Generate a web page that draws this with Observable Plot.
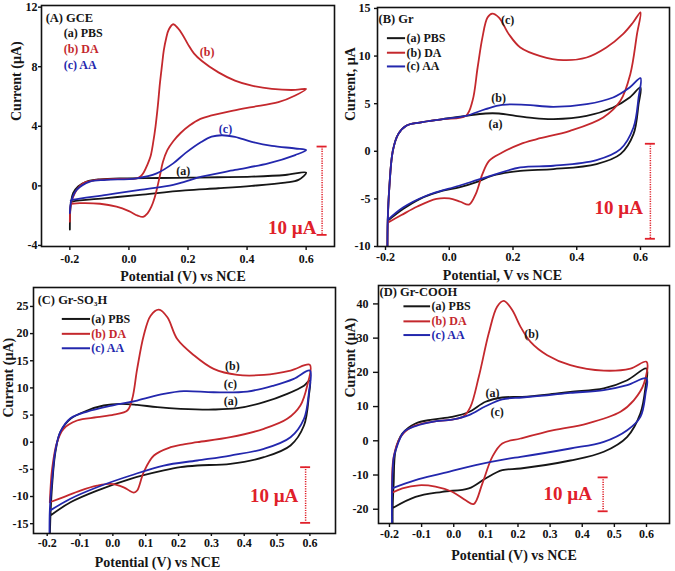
<!DOCTYPE html>
<html>
<head>
<meta charset="utf-8">
<script src="https://cdn.jsdelivr.net/npm/d3@7"></script>
<script src="https://cdn.jsdelivr.net/npm/@observablehq/plot@0.6"></script>
<style>
  html, body { margin: 0; padding: 0; background: #fff; }
  #root { position: relative; width: 675px; height: 571px; background: #fff; overflow: hidden; }
  .cell { position: absolute; }
</style>
</head>
<body>
<div id="root"></div>
<script>
// ---------------- DATA (potential V, current µA), traversed in scan order ----------------
const seriesNames = ["(a) PBS", "(b) DA", "(c) AA"];

// (A) GCE
const gcePBS = [[-0.200,-2.93],[-0.199,-1.8],[-0.196,-1.1],[-0.189,-0.49],[-0.172,-0.04],[-0.143,0.29],[-0.098,0.44],[-0.02,0.51],[0.1,0.53],[0.2,0.55],[0.3,0.58],[0.416,0.62],[0.529,0.73],[0.6,0.89],
  [0.574,0.40],[0.529,0.22],[0.416,0.0],[0.303,-0.16],[0.19,-0.3],[0.037,-0.6],[-0.076,-0.82],[-0.189,-1.04],[-0.197,-1.1]];
const gceDA = [[-0.200,-2.4],[-0.199,-1.7],[-0.196,-1.2],[-0.19,-0.8],[-0.177,-0.27],[-0.155,0.18],[-0.11,0.4],[-0.042,0.47],[0.026,0.51],[0.04,0.65],[0.05,0.9],[0.062,1.4],[0.073,1.97],[0.082,2.9],[0.09,3.98],[0.098,5.4],[0.105,6.9],[0.112,8.1],[0.118,9.1],[0.126,9.9],[0.135,10.5],[0.15,10.85],[0.165,10.6],[0.18,10.2],[0.2,9.5],[0.22,8.9],[0.246,8.4],[0.303,7.62],[0.359,7.07],[0.416,6.73],[0.484,6.51],[0.563,6.44],[0.6,6.51],
  [0.563,6.07],[0.506,5.62],[0.416,5.29],[0.353,5.05],[0.28,4.73],[0.242,4.5],[0.205,4.05],[0.175,3.55],[0.15,3.0],[0.13,2.4],[0.115,1.6],[0.105,0.7],[0.096,-0.1],[0.087,-0.8],[0.076,-1.4],[0.063,-1.85],[0.048,-2.08],[0.03,-2.0],[0.0,-1.7],[-0.042,-1.4],[-0.098,-1.2],[-0.166,-1.16],[-0.195,-1.2]];
const gceAA = [[-0.2,-1.82],[-0.198,-1.3],[-0.194,-0.93],[-0.177,-0.27],[-0.132,0.29],[-0.076,0.4],[0.026,0.51],[0.094,0.84],[0.15,1.51],[0.19,2.18],[0.246,2.96],[0.28,3.3],[0.314,3.4],[0.359,3.29],[0.416,2.96],[0.484,2.69],[0.563,2.51],[0.6,2.4],
  [0.563,2.07],[0.472,1.51],[0.359,1.07],[0.246,0.62],[0.19,0.29],[0.15,0.07],[0.037,-0.27],[-0.076,-0.6],[-0.189,-0.93],[-0.197,-1.0]];

// (B) Gr
const grPBS = [[-0.194,-10.5],[-0.193,-7.3],[-0.188,-3.8],[-0.177,0.05],[-0.16,1.8],[-0.135,2.68],[-0.093,3.02],[-0.02,3.38],[0.052,3.72],[0.114,3.97],[0.156,3.97],[0.208,3.72],[0.26,3.5],[0.327,3.38],[0.431,3.72],[0.514,4.6],[0.566,5.65],[0.6,6.7],
  [0.594,4.95],[0.578,1.8],[0.537,-0.3],[0.462,-1.34],[0.327,-1.87],[0.223,-2.05],[0.135,-2.57],[0.083,-3.27],[0.031,-3.8],[-0.02,-4.14],[-0.093,-5.02],[-0.145,-6.07],[-0.193,-7.3]];
const grDA = [[-0.194,-10.5],[-0.193,-7.5],[-0.188,-3.8],[-0.177,0.05],[-0.16,1.8],[-0.135,2.68],[-0.093,3.02],[-0.02,3.38],[0.052,3.72],[0.073,5.3],[0.089,8.8],[0.104,11.94],[0.12,14.04],[0.135,14.46],[0.156,14.04],[0.187,12.3],[0.223,10.9],[0.286,10.0],[0.358,9.57],[0.431,9.85],[0.493,10.9],[0.545,12.3],[0.576,13.5],[0.6,14.6],
  [0.589,12.3],[0.568,8.1],[0.537,5.3],[0.483,3.55],[0.379,2.15],[0.275,1.28],[0.223,0.76],[0.166,-0.13],[0.125,-1.0],[0.104,-2.4],[0.083,-4.5],[0.062,-5.6],[0.035,-5.3],[0.0,-4.95],[-0.04,-5.0],[-0.1,-5.8],[-0.15,-6.7],[-0.193,-7.5]];
const grAA = [[-0.194,-10.5],[-0.193,-7.2],[-0.188,-3.8],[-0.177,0.05],[-0.16,1.8],[-0.135,2.68],[-0.093,3.02],[-0.02,3.38],[0.052,3.72],[0.114,4.43],[0.166,4.88],[0.239,4.88],[0.327,4.67],[0.431,4.95],[0.514,5.65],[0.566,6.7],[0.6,7.68],
  [0.594,5.65],[0.578,2.5],[0.537,0.23],[0.462,-0.92],[0.327,-1.52],[0.223,-1.7],[0.114,-2.75],[0.031,-3.62],[-0.072,-4.67],[-0.145,-5.9],[-0.193,-7.2]];

// (C) Gr-SO3H
const soPBS = [[-0.192,-18],[-0.19,-13.5],[-0.185,-8.0],[-0.175,-1.84],[-0.16,1.84],[-0.129,4.3],[-0.078,5.84],[-0.028,6.76],[0.023,7.07],[0.074,6.88],[0.135,6.45],[0.206,6.15],[0.307,6.02],[0.379,6.26],[0.46,7.37],[0.531,8.9],[0.582,10.4],[0.6,11.4],
  [0.597,8.6],[0.582,3.07],[0.541,-0.6],[0.46,-2.76],[0.358,-3.98],[0.257,-4.29],[0.206,-4.6],[0.155,-5.2],[0.054,-6.74],[-0.048,-8.9],[-0.129,-11.05],[-0.19,-13.5]];
const soDA = [[-0.192,-11.05],[-0.185,-4.9],[-0.17,0],[-0.15,2.47],[-0.109,4.0],[-0.048,4.6],[0.003,5.1],[0.044,5.84],[0.059,8.0],[0.074,13.5],[0.094,19.65],[0.115,23.3],[0.14,24.4],[0.166,23.0],[0.196,19.0],[0.247,16.0],[0.307,13.5],[0.379,12.4],[0.46,12.4],[0.541,13.2],[0.6,14.25],
  [0.592,10.44],[0.571,6.76],[0.531,4.3],[0.46,2.47],[0.358,0.92],[0.257,0],[0.206,-0.49],[0.176,-0.92],[0.125,-2.45],[0.094,-5.5],[0.074,-8.9],[0.064,-9.3],[0.033,-8.3],[-0.007,-7.67],[-0.048,-8.0],[-0.099,-8.9],[-0.15,-10.1],[-0.192,-11.05]];
const soAA = [[-0.193,-18],[-0.192,-12.6],[-0.186,-7.5],[-0.175,-1.5],[-0.16,1.9],[-0.129,4.4],[-0.078,5.65],[-0.003,6.76],[0.074,7.68],[0.155,8.9],[0.216,9.4],[0.307,9.2],[0.409,9.33],[0.49,10.44],[0.551,11.67],[0.6,13.2],
  [0.597,9.2],[0.582,4.3],[0.541,0.92],[0.46,-1.22],[0.358,-2.45],[0.257,-3.37],[0.155,-4.29],[0.054,-6.13],[-0.048,-8.29],[-0.129,-10.4],[-0.192,-12.6]];

// (D) Gr-COOH
const coPBS = [[-0.19,-26],[-0.19,-19.5],[-0.187,-12.5],[-0.181,-2.8],[-0.16,2.1],[-0.119,5.05],[-0.067,6.2],[-0.005,7.0],[0.047,8.4],[0.099,11.4],[0.151,12.65],[0.213,12.85],[0.29,13.5],[0.363,14.3],[0.467,15.3],[0.54,17.7],[0.6,21.1],
  [0.597,15.8],[0.581,8.0],[0.54,1.17],[0.467,-3.2],[0.363,-5.76],[0.208,-8.1],[0.151,-8.6],[0.099,-11.0],[0.047,-13.9],[-0.036,-14.9],[-0.119,-16.4],[-0.187,-19.5]];
const coDA = [[-0.192,-15.2],[-0.187,-4.7],[-0.165,1.17],[-0.129,4.1],[-0.067,5.55],[-0.005,6.2],[0.031,7.2],[0.052,9.9],[0.078,18.7],[0.109,31.4],[0.135,39.2],[0.156,40.9],[0.182,38.2],[0.208,33.3],[0.239,28.9],[0.291,25.0],[0.363,22.1],[0.467,20.5],[0.55,21.1],[0.6,23.1],
  [0.592,16.7],[0.561,11.9],[0.519,8.5],[0.415,5.05],[0.311,3.1],[0.208,0.67],[0.151,-0.8],[0.12,-4.7],[0.089,-12.5],[0.062,-18.5],[0.037,-17.4],[-0.005,-14.9],[-0.057,-13.4],[-0.109,-13.0],[-0.16,-13.9],[-0.192,-15.2]];
const coAA = [[-0.192,-26],[-0.192,-13.9],[-0.187,-5],[-0.181,-2.8],[-0.155,2.6],[-0.119,4.3],[-0.067,5.55],[-0.005,6.2],[0.047,7.5],[0.099,10.1],[0.151,12.1],[0.213,12.65],[0.29,13.3],[0.363,14.0],[0.467,14.8],[0.54,16.25],[0.6,18.2],
  [0.597,13.8],[0.581,7.0],[0.54,3.1],[0.467,-0.3],[0.363,-2.25],[0.208,-4.7],[0.171,-5.2],[0.068,-7.1],[-0.036,-9.55],[-0.119,-11.5],[-0.192,-13.9]];

// tick values
const xTicksCoarse = [-0.2, 0, 0.2, 0.4, 0.6];
const xTicksFine = [-0.2, -0.1, 0, 0.1, 0.2, 0.3, 0.4, 0.5, 0.6];
const yTicksA = [-4, 0, 4, 8, 12];
const yTicksB = [-10, -5, 0, 5, 10, 15];
const yTicksC = [-15, -10, -5, 0, 5, 10, 15, 20, 25];
const yTicksD = [-20, -10, 0, 10, 20, 30, 40];

// ---------------- STYLE ----------------
const FONT = "'Liberation Serif','Times New Roman',Times,serif";
const BLACK = "#161616", RED = "#c4282d", BLUE = "#2327ad", BAR = "#e0202a";

const panels = [
  {
    box: {left: 0, top: 0, width: 337, height: 284},
    m: {l: 41, r: 3, t: 5, b: 38},
    xd: [-0.296, 0.696], yd: [-4.07, 12.11],
    xTicks: xTicksCoarse, yTicks: yTicksA,
    xt: {size: 4, pad: 4}, yt: {size: 3, pad: 1},
    curves: [[gcePBS, BLACK], [gceDA, RED], [gceAA, BLUE]],
    title: {t: "(A) GCE", x: -0.282, y: 11.25},
    legend: {x: -0.221, ys: [10.22, 9.15, 8.12], colors: [BLACK, RED, BLUE], line: null},
    labels: [{t: "(b)", x: 0.265, y: 8.95, c: RED}, {t: "(c)", x: 0.327, y: 3.8, c: BLUE}, {t: "(a)", x: 0.184, y: 0.96, c: BLACK}],
    bar: {x: 0.654, y1: 2.64, y2: -3.29, half: 0.017, tx: 0.553, ty: -2.84},
    xLabel: {t: "Potential (V) vs NCE", dx: -5, dy: 34},
    yLabel: {t: "Current (µA)", dx: -25, dy: -5}
  },
  {
    box: {left: 337, top: 0, width: 338, height: 284},
    m: {l: 40, r: 6, t: 7, b: 38},
    xd: [-0.2251, 0.691], yd: [-10, 15.1],
    xTicks: xTicksCoarse, yTicks: yTicksB,
    xt: {size: 4, pad: 2}, yt: {size: 3, pad: 4},
    curves: [[grPBS, BLACK], [grDA, RED], [grAA, BLUE]],
    title: {t: "(B) Gr", x: -0.222, y: 13.92},
    legend: {x: -0.134, ys: [11.88, 10.35, 8.91], colors: [BLACK, BLACK, BLACK], line: [-0.194, -0.137]},
    labels: [{t: "(c)", x: 0.183, y: 13.74, c: BLACK}, {t: "(b)", x: 0.155, y: 5.58, c: BLACK}, {t: "(a)", x: 0.145, y: 2.82, c: BLACK}],
    bar: {x: 0.631, y1: 0.79, y2: -9.19, half: 0.0157, tx: 0.532, ty: -5.94},
    xLabel: {t: "Potential, V vs NCE", dx: -21, dy: 33},
    yLabel: {t: "Current, µA", dx: -27, dy: -6}
  },
  {
    box: {left: 0, top: 284, width: 337, height: 287},
    m: {l: 33, r: 2, t: 3, b: 38},
    xd: [-0.2417, 0.678], yd: [-16.81, 28.49],
    xTicks: xTicksFine, yTicks: yTicksC,
    xt: {size: 3, pad: 2}, yt: {size: 3, pad: 2},
    curves: [[soPBS, BLACK], [soDA, RED], [soAA, BLUE]],
    title: {t: "(C) Gr-SO₃H", x: -0.229, y: 26.1},
    legend: {x: -0.066, ys: [22.7, 19.96, 17.3], colors: [BLACK, RED, BLUE], line: [-0.154, -0.068]},
    labels: [{t: "(b)", x: 0.364, y: 13.94, c: BLACK}, {t: "(c)", x: 0.358, y: 10.6, c: BLACK}, {t: "(a)", x: 0.359, y: 7.5, c: BLACK}],
    bar: {x: 0.587, y1: -4.6, y2: -14.85, half: 0.0152, tx: 0.491, ty: -9.94},
    xLabel: {t: "Potential (V) vs NCE", dx: -27, dy: 33},
    yLabel: {t: "Current (µA)", dx: -25, dy: 7}
  },
  {
    box: {left: 337, top: 284, width: 338, height: 287},
    m: {l: 41, r: 6, t: 1, b: 48},
    xd: [-0.2342, 0.6716], yd: [-24.17, 45.38],
    xTicks: xTicksFine, yTicks: yTicksD,
    xt: {size: 4, pad: 2}, yt: {size: 5, pad: 5},
    curves: [[coPBS, BLACK], [coDA, RED], [coAA, BLUE]],
    title: {t: "(D) Gr-COOH", x: -0.231, y: 43.6},
    legend: {x: -0.069, ys: [39.3, 34.9, 30.9], colors: [BLACK, RED, BLUE], line: [-0.155, -0.072]},
    labels: [{t: "(b)", x: 0.242, y: 31.2, c: BLACK}, {t: "(a)", x: 0.121, y: 14.0, c: BLACK}, {t: "(c)", x: 0.135, y: 8.5, c: BLACK}],
    bar: {x: 0.465, y1: -10.7, y2: -20.6, half: 0.0156, tx: 0.355, ty: -15.6},
    xLabel: {t: "Potential (V) vs NCE", dx: -10, dy: 36},
    yLabel: {t: "Current (µA)", dx: -28, dy: -7}
  }
];

const seriesColorsCurve = [BLACK, RED, BLUE];

function makePanel(p) {
  const marks = [];
  for (const [data, color] of p.curves) {
    marks.push(Plot.line(data, {x: d => d[0], y: d => d[1], stroke: color, strokeWidth: 1.8, curve: "catmull-rom", clip: true}));
  }
  marks.push(Plot.frame({stroke: "#111", strokeWidth: 1.6}));
  marks.push(Plot.axisX({ticks: p.xTicks, tickFormat: d => d.toFixed(1), tickSize: p.xt.size, tickPadding: p.xt.pad, label: null, fontSize: 12, fontWeight: "bold", strokeWidth: 1.4}));
  marks.push(Plot.axisY({ticks: p.yTicks, tickFormat: d => String(d), tickSize: p.yt.size, tickPadding: p.yt.pad, label: null, fontSize: 12, fontWeight: "bold", strokeWidth: 1.4}));
  marks.push(Plot.text([p.title.t], {x: p.title.x, y: p.title.y, text: d => d, textAnchor: "start", fontSize: 12.5, fontWeight: "bold", fill: BLACK}));
  seriesNames.forEach((name, i) => {
    const y = p.legend.ys[i];
    if (p.legend.line) {
      marks.push(Plot.ruleY([y], {x1: p.legend.line[0], x2: p.legend.line[1], stroke: seriesColorsCurve[i], strokeWidth: 2}));
    }
    marks.push(Plot.text([name], {x: p.legend.x, y, text: d => d, textAnchor: "start", fontSize: 12, fontWeight: "bold", fill: p.legend.colors[i]}));
  });
  for (const l of p.labels) {
    marks.push(Plot.text([l.t], {x: l.x, y: l.y, text: d => d, textAnchor: "middle", fontSize: 12, fontWeight: "bold", fill: l.c}));
  }
  const b = p.bar;
  marks.push(Plot.ruleX([b.x], {y1: b.y1, y2: b.y2, stroke: BAR, strokeWidth: 1.5, strokeDasharray: "1.2,1.2"}));
  marks.push(Plot.ruleY([b.y1, b.y2], {x1: b.x - b.half, x2: b.x + b.half, stroke: BAR, strokeWidth: 1.8}));
  marks.push(Plot.text(["10 µA"], {x: b.tx, y: b.ty, text: d => d, textAnchor: "middle", fontSize: 19, fontWeight: "bold", fill: BAR}));
  marks.push(Plot.text([p.xLabel.t], {frameAnchor: "bottom", dx: p.xLabel.dx, dy: p.xLabel.dy, text: d => d, fontSize: 14, fontWeight: "bold", fill: BLACK}));
  marks.push(Plot.text([p.yLabel.t], {frameAnchor: "left", dx: p.yLabel.dx, dy: p.yLabel.dy, rotate: -90, text: d => d, fontSize: 14, fontWeight: "bold", fill: BLACK}));

  const svg = Plot.plot({
    width: p.box.width, height: p.box.height,
    marginLeft: p.m.l, marginRight: p.m.r, marginTop: p.m.t, marginBottom: p.m.b,
    x: {domain: p.xd},
    y: {domain: p.yd},
    style: {fontFamily: FONT, fontWeight: "bold", fontSize: "12px", color: "#111", background: "transparent", overflow: "visible"},
    marks
  });
  const cell = document.createElement("div");
  cell.className = "cell";
  cell.style.left = p.box.left + "px";
  cell.style.top = p.box.top + "px";
  cell.appendChild(svg);
  document.getElementById("root").appendChild(cell);
}

panels.forEach(makePanel);
</script>
</body>
</html>
